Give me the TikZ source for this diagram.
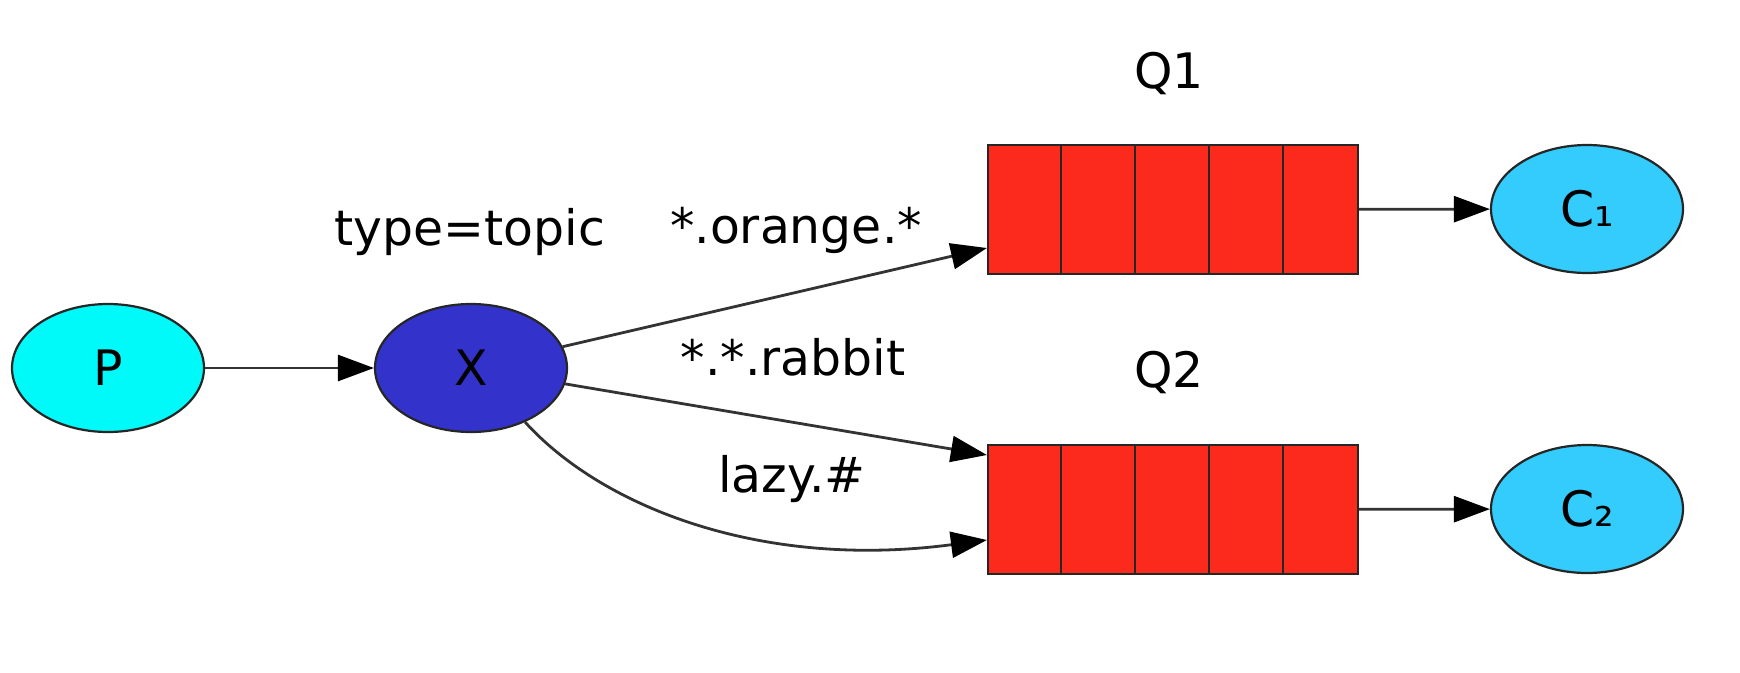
\documentclass[tikz,border=0pt]{standalone}
\usepackage{fontspec}
\setmainfont{DejaVu Sans}
\usetikzlibrary{positioning,shapes.geometric,arrows.meta}

\definecolor{pcyan}{HTML}{00FAFA}
\definecolor{xblue}{HTML}{3333CC}
\definecolor{qred}{HTML}{FC2A1C}
\definecolor{cblue}{HTML}{33CCFC}

\begin{document}
\begin{tikzpicture}[node distance=3.63cm,on grid,
    >={Triangle[length=3.6mm,width=2.6mm,color=black]},
    font=\fontsize{13.9}{16}\selectfont,
    oval/.style={ellipse,draw=black!85,line width=0.22mm,minimum width=1.92cm,minimum height=1.28cm,inner sep=0pt},
    queue/.style={rectangle,draw=black!85,line width=0.22mm,fill=qred,minimum width=3.7cm,minimum height=1.29cm,inner sep=0pt},
    link/.style={->,draw=black!80,line width=0.28mm}]
  \useasboundingbox (0,0) rectangle (17.4,-6.72);

  \node[oval,fill=pcyan] (P) at (1.08,-3.68) {P};
  \node[oval,fill=xblue] (X) [right=of P] {X};
  \node[queue] (Q1) at (11.73,-2.095) {};
  \node[queue] (Q2) [below=3cm of Q1] {};
  \node[oval,fill=cblue] (C1) at (15.87,-2.09) {C₁};
  \node[oval,fill=cblue] (C2) [below=3cm of C1] {C₂};

  % cells of the queues
  \foreach \q in {Q1,Q2}
    \foreach \i in {1,...,4}
      \draw[line width=0.22mm,black!85] ([xshift=\i*7.4mm]\q.north west) -- ([xshift=\i*7.4mm]\q.south west);

  \node[anchor=base] (topic) at (4.70,-2.45) {type=topic};
  \node[anchor=base] (orange) at (7.96,-2.43) {*.orange.*};
  \node[anchor=base] (rabbit) at (7.93,-3.75) {*.*.rabbit};
  \node[anchor=base] (lazy) at (7.92,-4.92) {lazy.\#};
  \node[anchor=base] (q1name) at (11.69,-0.88) {Q1};
  \node[anchor=base] (q2name) at (11.69,-3.87) {Q2};

  \draw[link] (P) -- (X);
  \draw[link] (X) -- ([yshift=-3.85mm]Q1.west);
  \draw[link] (X) -- ([yshift=5.45mm]Q2.west);
  \draw[link] (X.-45) .. controls +(0.76,-0.84) and +(-2.27,-0.30) .. ([yshift=-3.05mm]Q2.west);
  \draw[link] (Q1) -- (C1);
  \draw[link] (Q2) -- (C2);
\end{tikzpicture}
\end{document}
